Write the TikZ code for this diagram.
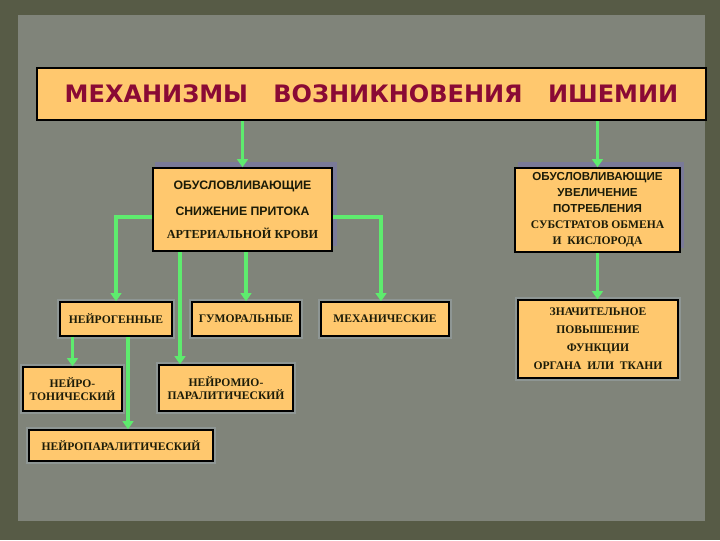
\documentclass[tikz,border=0pt]{standalone}
\usepackage{fontspec}
\setmainfont{Liberation Serif}
\setsansfont{Liberation Sans}
\newfontfamily\titlefont{DejaVu Sans}
\usetikzlibrary{arrows.meta}
\definecolor{bgouter}{HTML}{575B46}
\definecolor{bgpanel}{HTML}{80847A}
\definecolor{boxfill}{HTML}{FFC86E}
\definecolor{linkgreen}{HTML}{5EEB6E}
\definecolor{titlered}{HTML}{8A0A35}
\definecolor{boxtext}{HTML}{1C1C08}
\definecolor{boxshade}{HTML}{7A7A98}
\definecolor{haloc}{HTML}{8E9694}
\newdimen\px
\px=0.75pt
\tikzset{
  box/.style={draw=black, line width=1.2pt, fill=boxfill, text=boxtext, inner sep=0pt, align=center},
  halo/.style={preaction={draw=haloc, line width=4pt}},
  link/.style={draw=linkgreen, line width=2.8pt},
  arr/.style={link, -{Triangle[length=6pt,width=8pt]}},
  serifb/.style={font=\rmfamily\bfseries\fontsize{8.7}{10}\selectfont},
}
\begin{document}
\begin{tikzpicture}[x=0.75pt,y=-0.75pt,line cap=butt,line join=miter]
\useasboundingbox (0,0) rectangle (720,540);
% background
\fill[bgouter] (0,0) rectangle (720,540);
\fill[bgpanel] (18,15) rectangle (705,521);

% title
\node[box, line width=1.5pt, minimum width=669\px, minimum height=52\px, text=titlered,
      font=\titlefont\bfseries\fontsize{18}{22}\selectfont] (title) at (371.5,94)
  {МЕХАНИЗМЫ\hspace{19pt}ВОЗНИКНОВЕНИЯ\hspace{19pt}ИШЕМИИ};

% second row, with their shadows
\fill[boxshade] (155,162) rectangle (337,246);
\fill[boxshade] (518,162) rectangle (684,248);
\node[box, minimum width=179\px, minimum height=83\px] (supply) at (242.5,209.5)
  {{\sffamily\bfseries\fontsize{9.2}{11}\selectfont ОБУСЛОВЛИВАЮЩИЕ}\\[8pt]
   {\sffamily\bfseries\fontsize{9.2}{11}\selectfont СНИЖЕНИЕ ПРИТОКА}\\[5pt]
   {\rmfamily\bfseries\fontsize{9.2}{11}\selectfont АРТЕРИАЛЬНОЙ КРОВИ}};
\node[box, minimum width=165\px, minimum height=84\px] (demand) at (597.5,210)
  {{\sffamily\bfseries\fontsize{8.7}{11}\selectfont ОБУСЛОВЛИВАЮЩИЕ}\\
   {\sffamily\bfseries\fontsize{8.7}{11}\selectfont УВЕЛИЧЕНИЕ}\\
   {\sffamily\bfseries\fontsize{8.7}{11}\selectfont ПОТРЕБЛЕНИЯ}\\
   {\rmfamily\bfseries\fontsize{8.7}{11}\selectfont СУБСТРАТОВ ОБМЕНА}\\
   {\rmfamily\bfseries\fontsize{8.7}{11}\selectfont И\ \ КИСЛОРОДА}};

% third row
\node[box, halo, serifb, minimum width=112\px, minimum height=34\px] (neuro) at (116,319) {НЕЙРОГЕННЫЕ};
\node[box, halo, serifb, minimum width=108\px, minimum height=34\px] (humor) at (246,319) {ГУМОРАЛЬНЫЕ};
\node[box, halo, serifb, minimum width=128\px, minimum height=34\px] (mech) at (385,319) {МЕХАНИЧЕСКИЕ};
\node[box, halo, serifb, minimum width=160\px, minimum height=78\px] (func) at (598,339)
  {ЗНАЧИТЕЛЬНОЕ\\[3.5pt] ПОВЫШЕНИЕ\\[3.5pt] ФУНКЦИИ\\[3.5pt] ОРГАНА\ \ ИЛИ\ \ ТКАНИ};

% fourth row
\node[box, halo, serifb, minimum width=99\px, minimum height=44\px] (tonic) at (72.5,389) {НЕЙРО-\\ТОНИЧЕСКИЙ};
\node[box, halo, serifb, minimum width=134\px, minimum height=46\px] (myo) at (226,388) {НЕЙРОМИО-\\ПАРАЛИТИЧЕСКИЙ};
\node[box, halo, serifb, minimum width=184\px, minimum height=31\px] (paral) at (121,445.5) {НЕЙРОПАРАЛИТИЧЕСКИЙ};

% connectors
\coordinate (lturn) at (116,217);
\coordinate (rturn) at (381,217);
\coordinate (myodrop) at (180,0);
\coordinate (paraldrop) at (128,0);

\draw[arr] (title.south -| supply.north) -- (supply.north);
\draw[arr] (title.south -| demand.north) -- (demand.north);
\draw[arr] (supply.west |- lturn) -- (lturn) -- (neuro.north);
\draw[arr] (supply.east |- rturn) -- (rturn) -- (rturn |- mech.north);
\draw[arr] (supply.south -| humor.north) -- (humor.north);
\draw[arr] (myodrop |- supply.south) -- (myodrop |- myo.north);
\draw[arr] (demand.south) -- (demand.south |- func.north);
\draw[arr] (tonic.north |- neuro.south) -- (tonic.north);
\draw[arr] (paraldrop |- neuro.south) -- (paraldrop |- paral.north);
\end{tikzpicture}
\end{document}
